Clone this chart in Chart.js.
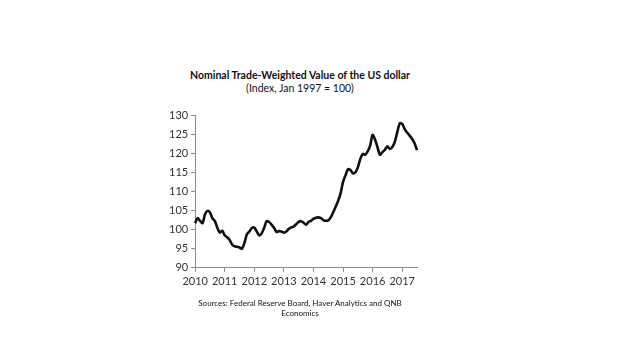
<!DOCTYPE html>
<html lang="en">
<head>
    <meta charset="UTF-8">
    <title>Nominal Trade-Weighted Value of the US dollar</title>
    <script src="https://cdn.jsdelivr.net/npm/chart.js"></script>
    <style>
        body { margin: 0; background: #fff; font-family: Lato, "Open Sans", sans-serif; }
        .wrap { position: relative; width: 620px; height: 355px; }
        .title { position: absolute; left: 0; width: 600px; text-align: center; color: #111; }
        #t1 { top: 69px; font-size: 10.5px; font-weight: bold; }
        #t2 { top: 82px; font-size: 10.5px; }
        #src { top: 298px; font-size: 8px; line-height: 10px; }
        canvas { position: absolute; left: 0; top: 0; }
    </style>
</head>
<body>
<div class="wrap">
    <div class="title" id="t1">Nominal Trade-Weighted Value of the US dollar</div>
    <div class="title" id="t2">(Index, Jan 1997 = 100)</div>
    <canvas id="usdChart" width="620" height="355"></canvas>
    <div class="title" id="src">Sources: Federal Reserve Board, Haver Analytics and QNB<br>Economics</div>
</div>

<script>
    // monthly, Jan 2010 .. Jul 2017
    const years = ['2010', '2011', '2012', '2013', '2014', '2015', '2016', '2017'];
    const index2010 = [101.7, 103, 102.3, 101.7, 104, 104.9, 104.5, 103, 102.2, 100.5, 99.2, 99.7];
    const index2011 = [98.5, 98, 97.3, 96.1, 95.6, 95.5, 95.3, 95, 96.5, 98.8, 99.5, 100.4];
    const index2012 = [100.5, 99.5, 98.5, 99, 100.5, 102.2, 102, 101.3, 100.5, 99.4, 99.6, 99.5];
    const index2013 = [99.2, 99.5, 100.2, 100.6, 100.8, 101.4, 102, 102.2, 101.8, 101.3, 102, 102.3];
    const index2014 = [102.8, 103.1, 103.2, 103, 102.5, 102.3, 102.4, 103.2, 104.5, 106, 107.5, 109.5];
    const index2015 = [112.5, 114.2, 115.8, 115.6, 114.7, 115, 116.3, 118.5, 119.8, 119.6, 120.5, 122];
    const index2016 = [124.8, 123.5, 121.5, 119.6, 120.3, 120.9, 121.8, 121.1, 121.6, 123, 125.5, 127.8];
    const index2017 = [127.7, 126.3, 125.4, 124.6, 123.8, 122.6, 120.8];
    const yTicks = [90, 95, 100, 105, 110, 115, 120, 125, 130];

    const series = [index2010, index2011, index2012, index2013, index2014, index2015, index2016, index2017];
    const labels = [];
    const values = [];
    series.forEach((arr, i) => {
        arr.forEach((v, m) => {
            labels.push(years[i] + '-' + String(m + 1).padStart(2, '0'));
            values.push(v);
        });
    });

    const axisColor = '#8a8a8a';
    const tickFont = { family: 'Lato, "Open Sans", sans-serif', size: 11 };

    new Chart(document.getElementById('usdChart'), {
        type: 'line',
        data: {
            labels: labels,
            datasets: [{
                data: values,
                borderColor: '#111',
                borderWidth: 2.6,
                pointRadius: 0,
                tension: 0.3,
                fill: false
            }]
        },
        options: {
            responsive: false,
            animation: false,
            layout: { padding: { left: 166, right: 203, top: 115, bottom: 64 } },
            plugins: { legend: { display: false }, tooltip: { enabled: false } },
            scales: {
                x: {
                    type: 'category',
                    offset: false,
                    afterBuildTicks: (scale) => {
                        scale.ticks = scale.ticks.filter(t => labels[t.value].endsWith('-01'));
                    },
                    ticks: {
                        autoSkip: false,
                        maxRotation: 0,
                        color: '#333',
                        font: tickFont,
                        padding: 3,
                        callback: function (value) { return labels[value].slice(0, 4); }
                    },
                    grid: { drawOnChartArea: false, tickLength: 4, color: axisColor },
                    border: { color: axisColor }
                },
                y: {
                    min: yTicks[0],
                    max: yTicks[yTicks.length - 1],
                    afterBuildTicks: (scale) => {
                        scale.ticks = yTicks.map(v => ({ value: v }));
                    },
                    ticks: { color: '#333', font: tickFont, padding: 3 },
                    grid: { drawOnChartArea: false, tickLength: 4, color: axisColor },
                    border: { color: axisColor }
                }
            }
        }
    });
</script>
</body>
</html>
